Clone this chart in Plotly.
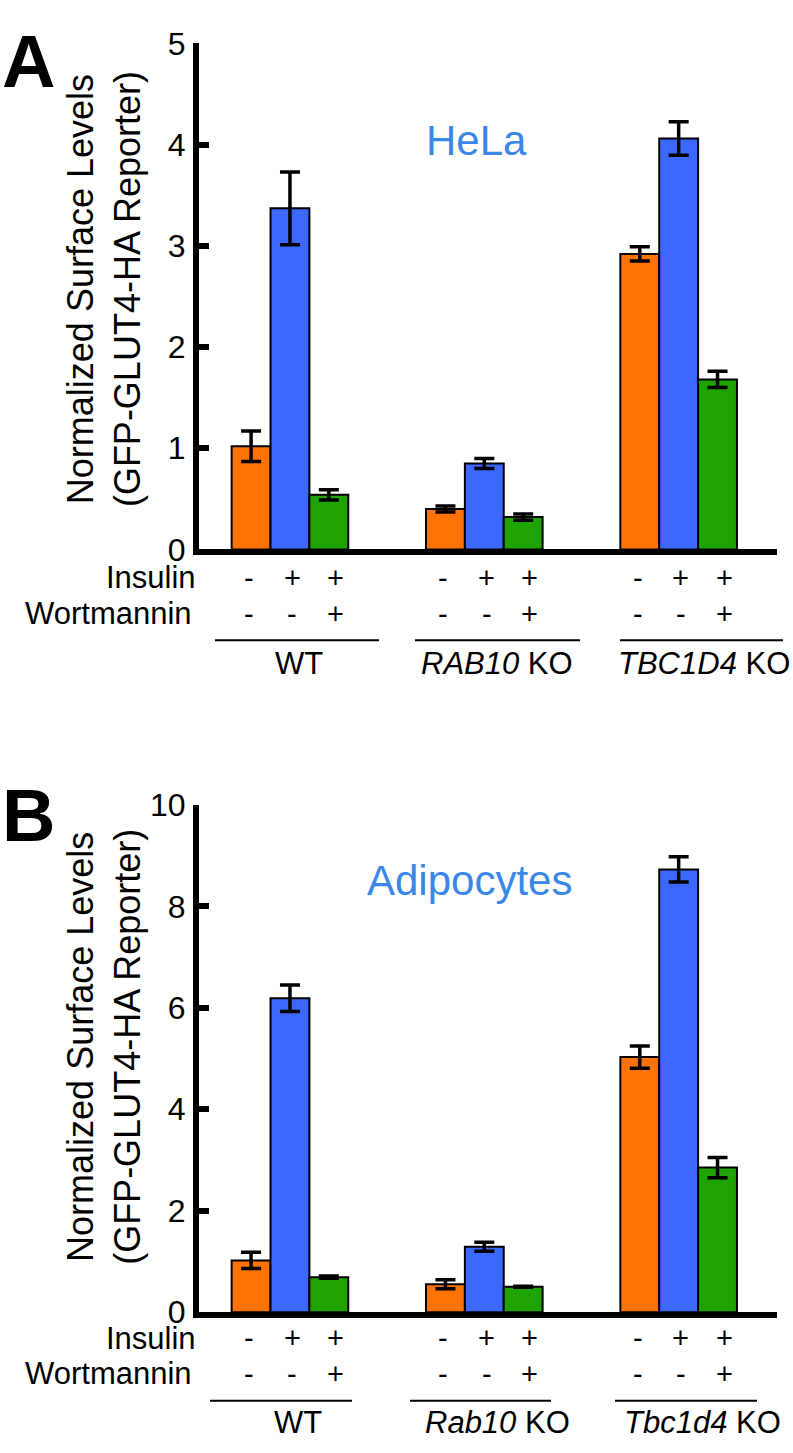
import plotly.graph_objects as go

W, H = 793, 1453

# ---------------- data ----------------
genotypes_hela = ["WT", "<i>RAB10</i> KO", "<i>TBC1D4</i> KO"]
genotypes_adipo = ["WT", "<i>Rab10</i> KO", "<i>Tbc1d4</i> KO"]
conditions = ["Basal", "Insulin", "Insulin + Wortmannin"]
insulin_signs = ["-", "+", "+"]
wortmannin_signs = ["-", "-", "+"]

hela_basal = [1.02, 0.40, 2.92]
hela_basal_err = [0.15, 0.03, 0.07]
hela_insulin = [3.37, 0.85, 4.06]
hela_insulin_err = [0.36, 0.05, 0.165]
hela_wort = [0.54, 0.32, 1.68]
hela_wort_err = [0.05, 0.03, 0.08]

adipo_basal = [1.02, 0.55, 5.03]
adipo_basal_err = [0.16, 0.09, 0.22]
adipo_insulin = [6.19, 1.29, 8.73]
adipo_insulin_err = [0.26, 0.09, 0.25]
adipo_wort = [0.69, 0.50, 2.85]
adipo_wort_err = [0.02, 0.01, 0.20]

colors = ["#FF7304", "#3D68FF", "#1FA300"]
label_blue = "#3B87E8"

FONT = "Liberation Sans, Arial, Helvetica, sans-serif"


def px(x):
    return x / W


def py(y):
    return 1 - y / H


GROUP_STEP = 5      # group spacing in bar widths
SIGN_STEP = 1.11    # spacing of the +/- labels, in bar widths
SIGN_SHIFT = 0.06

fig = go.Figure()

panels = [
    dict(xa="x", ya="y", vals=[hela_basal, hela_insulin, hela_wort],
         errs=[hela_basal_err, hela_insulin_err, hela_wort_err]),
    dict(xa="x2", ya="y2", vals=[adipo_basal, adipo_insulin, adipo_wort],
         errs=[adipo_basal_err, adipo_insulin_err, adipo_wort_err]),
]

for p in panels:
    for j, (vals, errs) in enumerate(zip(p["vals"], p["errs"])):
        xs = [g * GROUP_STEP + j for g in range(len(vals))]
        fig.add_trace(go.Bar(
            x=xs, y=vals, width=1, name=conditions[j],
            marker=dict(color=colors[j], line=dict(color="black", width=2)),
            error_y=dict(type="data", array=errs, color="black",
                         thickness=3.5, width=10),
            xaxis=p["xa"], yaxis=p["ya"], showlegend=False,
        ))

xrange = [-1.34, 13.53]
xdom = [px(199), px(777)]
axis_common = dict(showgrid=False, zeroline=False, showline=True,
                   linecolor="black", linewidth=6)
ytick_common = dict(ticks="inside", ticklen=10, tickwidth=6, tickcolor="black",
                    ticklabelstandoff=1, tickfont=dict(size=32, family=FONT))

fig.update_layout(
    width=W, height=H, margin=dict(l=0, r=0, t=0, b=0),
    paper_bgcolor="white", plot_bgcolor="white",
    barmode="overlay", font=dict(family=FONT, color="black"),
    xaxis=dict(domain=xdom, range=xrange, showticklabels=False, ticks="",
               anchor="y", **axis_common),
    yaxis=dict(domain=[py(545), py(26)], range=[0, 5], dtick=1,
               anchor="x", **ytick_common, **axis_common),
    xaxis2=dict(domain=xdom, range=xrange, showticklabels=False, ticks="",
                anchor="y2", **axis_common),
    yaxis2=dict(domain=[py(1327), py(807)], range=[0, 10], dtick=2,
                anchor="x2", **ytick_common, **axis_common),
)

ann = []
shapes = []

panel_text = [
    dict(letter="A", letter_y=0, title_y=278, cell="HeLa", cell_x=476, cell_y=126,
         ins_y=574, wort_y=611, line_y=638, geno_y=662, genos=genotypes_hela,
         xa="x",
         lines=[(215, 379), (415, 580), (620, 783)], geno_x=[299, 497, 704]),
    dict(letter="B", letter_y=773, title_y=1055, cell="Adipocytes", cell_x=470, cell_y=884,
         ins_y=1354, wort_y=1390, line_y=1418, geno_y=1440, genos=genotypes_adipo,
         xa="x2",
         lines=[(210, 352), (410, 551), (615, 757)], geno_x=[298, 497, 702]),
]

for t in panel_text:
    ann.append(dict(text="<b>%s</b>" % t["letter"], x=px(0), y=py(t["letter_y"]),
                    xref="paper", yref="paper", xanchor="left", yanchor="top",
                    showarrow=False, font=dict(size=74, family=FONT, color="black")))
    ann.append(dict(text="Normalized Surface Levels<br>(GFP-GLUT4-HA Reporter)",
                    x=px(104), y=py(t["title_y"]), xref="paper", yref="paper",
                    xanchor="center", yanchor="middle", textangle=-90,
                    showarrow=False, font=dict(size=36, family=FONT, color="black")))
    ann.append(dict(text=t["cell"], x=px(t["cell_x"]), y=py(t["cell_y"]),
                    xref="paper", yref="paper", xanchor="center", yanchor="middle",
                    showarrow=False, font=dict(size=42, family=FONT, color=label_blue)))
    ann.append(dict(text="Insulin", x=px(198), y=py(t["ins_y"]), xref="paper", yref="paper",
                    xanchor="right", yanchor="middle", showarrow=False,
                    font=dict(size=31, family=FONT)))
    ann.append(dict(text="Wortmannin", x=px(194), y=py(t["wort_y"]), xref="paper",
                    yref="paper", xanchor="right", yanchor="middle", showarrow=False,
                    font=dict(size=31, family=FONT)))
    for g in range(3):
        for j in range(3):
            xc = g * GROUP_STEP + 1 + (j - 1) * SIGN_STEP + SIGN_SHIFT
            ann.append(dict(text=insulin_signs[j], x=xc, y=py(t["ins_y"]), xref=t["xa"],
                            yref="paper", xanchor="center", yanchor="middle",
                            showarrow=False, font=dict(size=29, family=FONT)))
            ann.append(dict(text=wortmannin_signs[j], x=xc, y=py(t["wort_y"]), xref=t["xa"],
                            yref="paper", xanchor="center", yanchor="middle",
                            showarrow=False, font=dict(size=29, family=FONT)))
        x0, x1 = t["lines"][g]
        shapes.append(dict(type="line", xref="paper", yref="paper",
                           x0=px(x0), x1=px(x1), y0=py(t["line_y"]), y1=py(t["line_y"]),
                           line=dict(color="black", width=2)))
        ann.append(dict(text=t["genos"][g], x=px(t["geno_x"][g]), y=py(t["geno_y"]),
                        xref="paper", yref="paper", xanchor="center", yanchor="middle",
                        showarrow=False, font=dict(size=31, family=FONT)))

fig.update_layout(annotations=ann, shapes=shapes)
fig.write_html("out.html", config={"displayModeBar": False},
               post_script="document.body.style.margin='0';document.body.style.overflow='hidden';")
